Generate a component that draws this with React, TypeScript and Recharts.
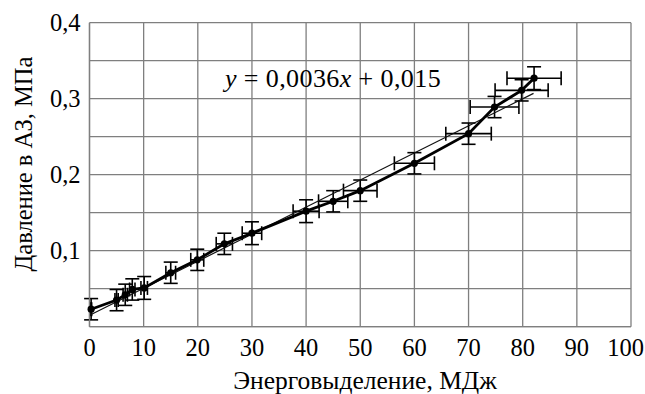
import React from "react";
import {
  ComposedChart,
  Scatter,
  XAxis,
  YAxis,
  CartesianGrid,
  ErrorBar,
} from "recharts";

// values
const energy = [0.3, 5, 6.6, 7.9, 10.1, 15, 19.9, 24.9, 30, 40, 45, 50, 60, 70, 74.8, 79.8, 82.1];
const pressure = [
  0.023, 0.035, 0.042, 0.049, 0.051, 0.071, 0.088, 0.109, 0.123, 0.152, 0.165, 0.179, 0.215,
  0.254, 0.289, 0.311, 0.327,
];
const energyErr = [0.1, 0.3, 0.4, 0.5, 0.6, 0.9, 1.2, 1.5, 1.8, 2.4, 2.7, 3.1, 3.7, 4.2, 4.5, 4.9, 5.0];
const pressureErr = [
  0.014, 0.014, 0.014, 0.014, 0.015, 0.014, 0.014, 0.014, 0.015, 0.015, 0.014, 0.014, 0.014,
  0.014, 0.014, 0.014, 0.015,
];

// trend line ends
const trendX = [0.3, 82];
const trendY = [0.016, 0.307];

const xTicks = [0, 10, 20, 30, 40, 50, 60, 70, 80, 90, 100];
const yTicks = [0, 0.05, 0.1, 0.15, 0.2, 0.25, 0.3, 0.35, 0.4];

const points = energy.map((x, i) => ({
  x,
  y: pressure[i],
  ex: energyErr[i],
  ey: pressureErr[i],
}));
const trend = trendX.map((x, i) => ({ x, y: trendY[i] }));

const FONT = "'Liberation Serif', 'Times New Roman', serif";

const fmtY = (v: number) => {
  const r = Math.round(v * 100);
  return r > 0 && r % 10 === 0 ? (r / 100).toFixed(1).replace(".", ",") : "";
};

const Dot = (props: any) => <circle cx={props.cx} cy={props.cy} r={3.6} fill="#000" />;

// last label is pulled in so it stays inside the picture
const XTick = (props: any) => {
  const { x, y, payload } = props;
  const last = payload.value === xTicks[xTicks.length - 1];
  return (
    <text
      x={last ? 644 : x}
      y={y}
      dy="0.71em"
      textAnchor={last ? "end" : "middle"}
      style={{ fontSize: 24.5, fontFamily: FONT }}
      fill="#000"
    >
      {payload.value}
    </text>
  );
};

const App: React.FC = () => {
  return (
    <div style={{ position: "absolute", left: 0, top: 0, width: 645, height: 394, background: "#fff" }}>
      <ComposedChart
        width={645}
        height={394}
        margin={{ top: 22.7, right: 14, bottom: 27.3, left: 0 }}
        style={{ fontFamily: FONT }}
      >
        <CartesianGrid stroke="#7f7f7f" strokeWidth={1.3} />
        <XAxis
          type="number"
          dataKey="x"
          domain={[0, 100]}
          ticks={xTicks}
          interval={0}
          height={40}
          tickSize={0}
          tickMargin={12}
          axisLine={{ stroke: "#7f7f7f", strokeWidth: 1.3 }}
          tick={<XTick />}
          label={{
            content: () => (
              <text x={365} y={389} textAnchor="middle" style={{ fontSize: 25.5, fontFamily: FONT }} fill="#000">
                Энерговыделение, МДж
              </text>
            ),
          }}
        />
        <YAxis
          type="number"
          dataKey="y"
          domain={[0, 0.4]}
          ticks={yTicks}
          interval={0}
          width={89.5}
          tickSize={0}
          tickMargin={9}
          tickFormatter={fmtY}
          axisLine={{ stroke: "#7f7f7f", strokeWidth: 1.3 }}
          tick={{ fill: "#000", fontSize: 24.5, fontFamily: FONT }}
          label={{
            content: () => (
              <text
                x={32}
                y={164}
                transform="rotate(-90, 32, 164)"
                textAnchor="middle"
                style={{ fontSize: 24.5, fontFamily: FONT }}
                fill="#000"
              >
                Давление в АЗ, МПа
              </text>
            ),
          }}
        />
        <Scatter
          data={trend}
          line={{ stroke: "#111", strokeWidth: 1.2 }}
          lineType="joint"
          shape={() => null}
          isAnimationActive={false}
        />
        <Scatter
          data={points}
          line={{ stroke: "#000", strokeWidth: 2.8 }}
          lineType="joint"
          shape={Dot}
          isAnimationActive={false}
        >
          <ErrorBar dataKey="ex" direction="x" width={7} stroke="#000" strokeWidth={1.6} />
          <ErrorBar dataKey="ey" direction="y" width={7} stroke="#000" strokeWidth={1.6} />
        </Scatter>
      </ComposedChart>
      <div
        style={{
          position: "absolute",
          left: 225,
          top: 66,
          fontFamily: FONT,
          fontSize: 26,
          lineHeight: "26px",
          letterSpacing: "0.4px",
          whiteSpace: "nowrap",
          color: "#000",
        }}
      >
        <i>y</i> = 0,0036<i>x</i> + 0,015
      </div>
    </div>
  );
};

export default App;
